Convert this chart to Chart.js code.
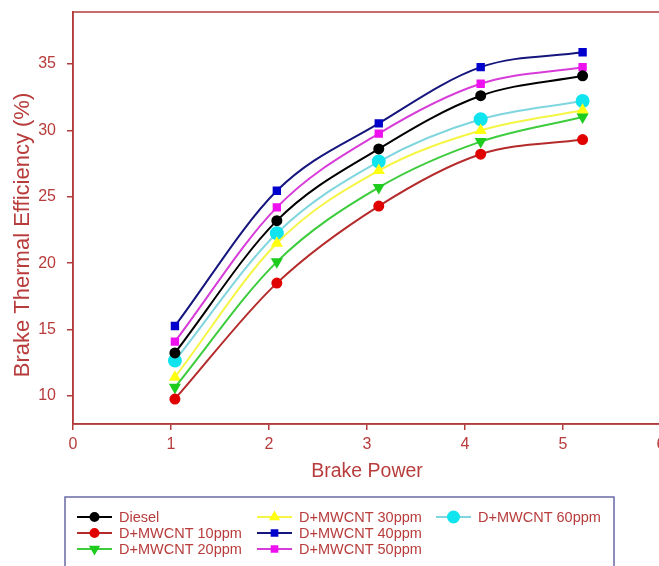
<html>
<head>
<meta charset="utf8"/>
<title>Brake Thermal Efficiency</title>
<script src="https://cdn.jsdelivr.net/npm/chart.js"></script>
<style type="text/css">
html, body{
  margin: 0;
  padding: 0;
  background-color: #ffffff;
  overflow: hidden;
}
#wrap{
  width: 659px;
  height: 566px;
  overflow: hidden;
}
</style>
</head>
<body>
<div id="wrap">
  <canvas id="btechart" width="680" height="566"></canvas>
</div>
<script>
// data
const brakePower = [1.04, 2.08, 3.12, 4.16, 5.2];
const diesel  = [13.25, 23.2, 28.6, 32.6, 34.1];
const mwcnt10 = [9.78, 18.5, 24.3, 28.2, 29.3];
const mwcnt20 = [10.66, 20.1, 25.7, 29.15, 31.0];
const mwcnt30 = [11.42, 21.5, 26.97, 29.98, 31.5];
const mwcnt40 = [15.27, 25.45, 30.52, 34.75, 35.87];
const mwcnt50 = [14.1, 24.2, 29.75, 33.5, 34.75];
const mwcnt60 = [12.67, 22.25, 27.65, 30.83, 32.2];

const seriesNames = ['Diesel', 'D+MWCNT 10ppm', 'D+MWCNT 20ppm', 'D+MWCNT 30ppm',
                     'D+MWCNT 40ppm', 'D+MWCNT 50ppm', 'D+MWCNT 60ppm'];
const xTicks = [0, 1, 2, 3, 4, 5, 6];
const yTicks = [10, 15, 20, 25, 30, 35];
const yTitle = 'Brake Thermal Efficiency (%)';

const axisColor = '#b23c3c';
const textColor = '#b83c3c';

function pts(arr){
  return arr.map(function(v, i){ return {x: brakePower[i], y: v}; });
}

function series(idx, arr, line, fill, style, radius, rot){
  return {
    label: seriesNames[idx],
    data: pts(arr),
    borderColor: line,
    backgroundColor: fill,
    pointBackgroundColor: fill,
    pointBorderColor: fill,
    pointStyle: style,
    pointRadius: radius,
    pointRotation: rot || 0,
    borderWidth: 2,
    cubicInterpolationMode: 'monotone',
    fill: false
  };
}

const datasets = [
  series(0, diesel,  '#000000', '#000000', 'circle', 4.5),
  series(1, mwcnt10, '#b52a2a', '#e00000', 'circle', 4.5),
  series(2, mwcnt20, '#3ccc3c', '#1ecc1e', 'triangle', 5, 180),
  series(3, mwcnt30, '#f5f545', '#ffff10', 'triangle', 5),
  series(4, mwcnt40, '#15157e', '#0000cc', 'rect', 4.5),
  series(5, mwcnt50, '#d83cd8', '#ee10ee', 'rect', 4.5),
  series(6, mwcnt60, '#7fd6de', '#10e4ee', 'circle', 6)
];

// top/right frame of the plot, plus the y title (sits a bit below centre)
const framePlugin = {
  id: 'frame',
  beforeDatasetsDraw(chart){
    const a = chart.chartArea;
    const c = chart.ctx;
    c.save();
    c.strokeStyle = axisColor;
    c.lineWidth = 1.5;
    c.strokeRect(a.left, a.top, a.right - a.left, a.bottom - a.top);

    c.translate(23, 235);
    c.rotate(-Math.PI / 2);
    c.font = '22px "Liberation Sans", Arial, sans-serif';
    c.fillStyle = textColor;
    c.textAlign = 'center';
    c.textBaseline = 'middle';
    c.fillText(yTitle, 0, 0);
    c.restore();
  }
};

// boxed 3-column legend under the axis
const boxLegend = {
  id: 'boxLegend',
  afterDraw(chart){
    const c = chart.ctx;
    c.save();
    c.strokeStyle = '#6a6aa8';
    c.lineWidth = 1.5;
    c.strokeRect(65, 497, 549, 80);

    const colX = [77, 257, 436];
    const rowY = [517, 533, 549];
    c.font = '14.5px "Liberation Sans", Arial, sans-serif';
    c.textBaseline = 'middle';
    chart.data.datasets.forEach(function(ds, i){
      const x = colX[Math.floor(i / 3)];
      const y = rowY[i % 3];
      c.strokeStyle = ds.borderColor;
      c.lineWidth = 2;
      c.beginPath();
      c.moveTo(x, y);
      c.lineTo(x + 35, y);
      c.stroke();
      c.fillStyle = ds.pointBackgroundColor;
      c.strokeStyle = ds.pointBorderColor;
      Chart.helpers.drawPoint(c, {
        pointStyle: ds.pointStyle,
        radius: ds.pointRadius - 0.5,
        rotation: ds.pointRotation,
        borderWidth: 1
      }, x + 17.5, y);
      c.fillStyle = textColor;
      c.fillText(ds.label, x + 42, y + 1);
    });
    c.restore();
  }
};

const chartobj = new Chart(document.getElementById('btechart'), {
  type: 'line',
  data: { datasets: datasets },
  options: {
    responsive: false,
    animation: false,
    layout: { padding: { top: 12, right: 19, bottom: 0, left: 0 } },
    plugins: {
      legend: { display: false },
      tooltip: { enabled: false }
    },
    scales: {
      x: {
        type: 'linear',
        min: 0,
        max: 6,
        afterBuildTicks: function(s){ s.ticks = xTicks.map(function(v){ return {value: v}; }); },
        afterFit: function(s){ s.height = 142; s.paddingLeft = 0; s.paddingRight = 0; },
        border: { color: axisColor, width: 1.5 },
        grid: { drawOnChartArea: false, drawTicks: true, tickLength: 6, color: axisColor, lineWidth: 1.5 },
        ticks: { color: textColor, padding: 5, font: { family: '"Liberation Sans", Arial', size: 16 } },
        title: {
          display: true,
          text: 'Brake Power',
          color: textColor,
          font: { family: '"Liberation Sans", Arial', size: 19.5 },
          padding: { top: 0, bottom: 83 }
        }
      },
      y: {
        type: 'linear',
        min: 7.9,
        max: 38.9,
        afterBuildTicks: function(s){ s.ticks = yTicks.map(function(v){ return {value: v}; }); },
        afterFit: function(s){ s.width = 73; s.paddingTop = 0; s.paddingBottom = 0; },
        border: { color: axisColor, width: 1.5 },
        grid: { drawOnChartArea: false, drawTicks: true, tickLength: 6, color: axisColor, lineWidth: 1.5 },
        ticks: { color: textColor, padding: 11, font: { family: '"Liberation Sans", Arial', size: 16 } }
      }
    }
  },
  plugins: [framePlugin, boxLegend]
});
</script>
</body>
</html>
